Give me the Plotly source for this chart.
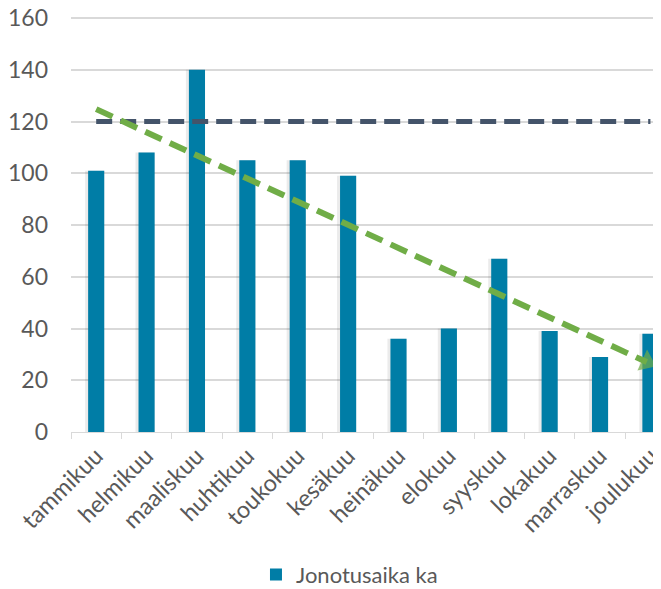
import numpy as np
import plotly.graph_objects as go

months = ["tammikuu", "helmikuu", "maaliskuu", "huhtikuu", "toukokuu", "kesäkuu",
          "heinäkuu", "elokuu", "syyskuu", "lokakuu", "marraskuu", "joulukuu"]
wait_avg = [101, 108, 140, 105, 105, 99, 36, 40, 67, 39, 29, 38]
target = [120] * len(months)
y_ticks = [0, 20, 40, 60, 80, 100, 120, 140, 160]

xi = np.arange(len(months))
slope, intercept = np.polyfit(xi, wait_avg, 1)
trend_x = [months[0], months[-1]]
trend_y = [intercept, intercept + slope * (len(months) - 1)]

FONT = "Lato"
GRAY = "#595959"

fig = go.Figure()

# soft shadow behind bars
fig.add_trace(go.Bar(
    x=months, y=wait_avg, width=0.38, offset=-0.22,
    marker=dict(color="rgba(0,0,0,0.08)", line=dict(width=0)),
    showlegend=False, hoverinfo="skip"))

fig.add_trace(go.Bar(
    x=months, y=wait_avg, name="Jonotusaika ka", width=0.32, offset=-0.16,
    marker=dict(color="#007DA6", line=dict(width=0))))

fig.add_trace(go.Scatter(
    x=months, y=target, mode="lines", showlegend=False,
    line=dict(color="#44546A", width=5, dash="16px,8px")))

fig.add_trace(go.Scatter(
    x=trend_x, y=trend_y, mode="lines+markers", showlegend=False,
    line=dict(color="#70AD47", width=6, dash="18px,9px"),
    marker=dict(symbol="triangle-up", size=[0, 20], color="#70AD47",
                angleref="previous", standoff=4, line=dict(width=0))))

# page body has an 8px default margin; figure is sized to fill the rest
fig.update_layout(
    width=653, height=581,
    margin=dict(l=63, r=0, t=9, b=157, autoexpand=False),
    paper_bgcolor="white", plot_bgcolor="white",
    barmode="overlay",
    font=dict(family=FONT, color=GRAY),
    showlegend=True,
    legend=dict(orientation="h", x=0.472, xanchor="center", y=-0.344, yanchor="middle",
                font=dict(size=22, color=GRAY, family=FONT)),
    xaxis=dict(
        type="category", range=[-0.5, 11.21], automargin=False,
        tickangle=-45, tickfont=dict(size=23.5, color=GRAY, family=FONT),
        showline=True, linecolor="#D9D9D9", linewidth=1,
        ticks="outside", ticklen=6, tickcolor="#D9D9D9", tickson="boundaries",
        showgrid=False, zeroline=False),
    yaxis=dict(
        range=[0, 160.4], tickvals=y_ticks, ticktext=[str(v) for v in y_ticks],
        automargin=False, ticklabeloverflow="allow",
        tickfont=dict(size=23, color=GRAY, family=FONT),
        showgrid=True, gridcolor="#D9D9D9", gridwidth=1.5,
        zeroline=False, showline=False, ticklabelstandoff=22),
)

fig.write_html("out.html")
